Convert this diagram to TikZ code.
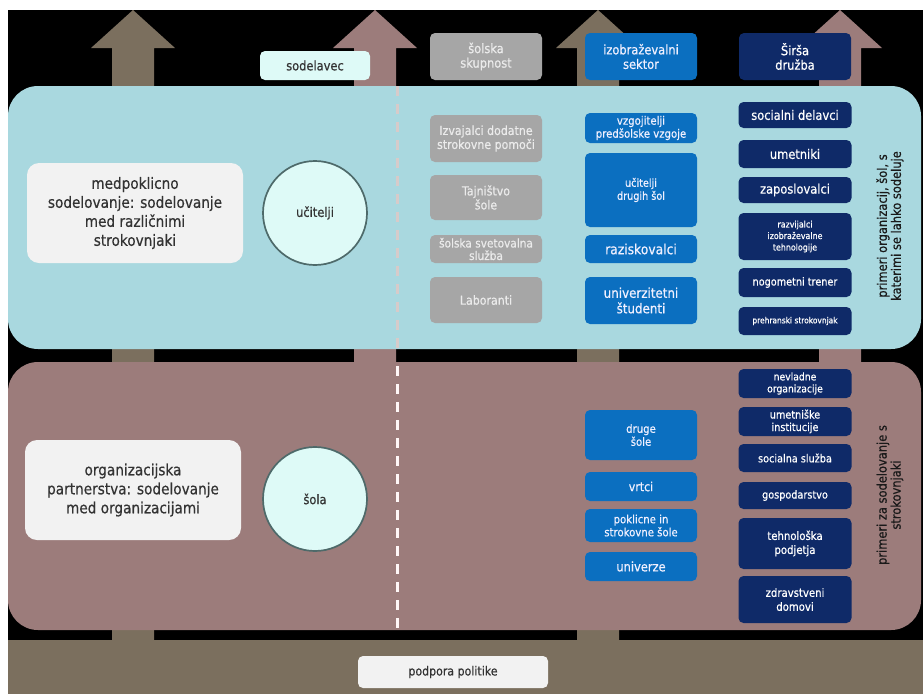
\documentclass[tikz,border=0pt]{standalone}
\usepackage{fontspec}
\setmainfont[FakeStretch=0.88, FakeBold=0.5]{DejaVu Sans}

\definecolor{bandblue}{HTML}{A9D8DF}
\definecolor{bandpink}{HTML}{9C7C7B}
\definecolor{arrowolive}{HTML}{7B6F5E}
\definecolor{boxgrey}{HTML}{A6A6A6}
\definecolor{boxblue}{HTML}{0B6FC0}
\definecolor{boxnavy}{HTML}{0F2A68}
\definecolor{paleteal}{HTML}{DEFAF7}
\definecolor{textbg}{HTML}{F2F2F2}
\definecolor{ringgrey}{HTML}{4E6A6A}

\newcommand{\fsz}[2]{\fontsize{#1}{#2}\selectfont}

\begin{document}
\begin{tikzpicture}[x=1pt, y=-1pt,
    greybox/.style={fill=boxgrey, text=white!92!black, rounded corners=5pt, minimum width=112pt, align=center, inner sep=1pt, font=\fsz{12.5}{14}},
    bluebox/.style={fill=boxblue, text=white!94!blue, rounded corners=5pt, minimum width=112pt, align=center, inner sep=1pt, font=\fsz{11.5}{13}},
    navybox/.style={fill=boxnavy, text=white, rounded corners=5pt, minimum width=113pt, align=center, inner sep=1pt, font=\fsz{11}{12.5}},
    headbox/.style={rounded corners=5pt, minimum width=112pt, minimum height=47pt, align=center, inner sep=1pt, font=\fsz{13}{14.5}},
    infobox/.style={fill=textbg, text=black!80, rounded corners=12pt, minimum width=216pt, minimum height=100pt, align=center, font=\fsz{15.5}{19}},
    actor/.style={circle, draw=ringgrey, line width=1.7pt, fill=paleteal, minimum size=104pt, text=black!80, font=\fsz{13}{15}},
    sidenote/.style={rotate=90, align=center, text=black!90, font=\fsz{13}{14}}
  ]

  \useasboundingbox (0,0) rectangle (923,694);
  \fill[white] (0,0) rectangle (923,694);
  \fill[black] (8,10) rectangle (923,640);

  % Puščice
  \fill[arrowolive] (112,640) -- (112,48) -- (91,48) -- (133,10) -- (175,48) -- (154,48) -- (154,640) -- cycle;
  \fill[bandpink] (354,370) -- (354,48) -- (333,48) -- (375,10) -- (417,48) -- (396,48) -- (396,370) -- cycle;
  \fill[arrowolive] (577,640) -- (577,48) -- (556,48) -- (598,10) -- (640,48) -- (619,48) -- (619,640) -- cycle;
  \fill[bandpink] (819,370) -- (819,48) -- (798,48) -- (840,10) -- (882,48) -- (861,48) -- (861,370) -- cycle;

  % Pasovi
  \fill[bandblue, rounded corners=30pt] (8,86) rectangle (921,349);
  \fill[bandpink, rounded corners=30pt] (8,362) rectangle (921,630);
  \fill[arrowolive] (8,640) rectangle (923,694);
  \draw[color=bandpink!40!white, line width=3pt, dash pattern=on 10pt off 8pt] (397,86) -- (397,349);
  \draw[color=white!88!pink, line width=3pt, dash pattern=on 10pt off 8pt] (397,366) -- (397,630);

  % Glave stolpcev
  \node[headbox, fill=paleteal, text=black!80, minimum height=29pt, minimum width=110pt] (sodelavec) at (315,65.5) {sodelavec};
  \node[headbox, fill=boxgrey, text=white!92!black] (skupnost) at (486,56.5) {šolska\\skupnost};
  \node[headbox, fill=boxblue, text=white!94!blue] (sektor) at (641,56.5) {izobraževalni\\sektor};
  \node[headbox, fill=boxnavy, text=white] (druzba) at (795,56.5) {Širša\\družba};

  % Levo
  \node[infobox] (medpoklicno) at (135,213) {medpoklicno\\sodelovanje: sodelovanje\\med različnimi\\strokovnjaki};
  \node[actor] (ucitelji) at (315,213) {učitelji};
  \node[infobox] (partnerstva) at (133,490) {organizacijska\\partnerstva: sodelovanje\\med organizacijami};
  \node[actor] (sola) at (315,499) {šola};

  % Šolska skupnost
  \node[greybox, minimum height=47pt] (izvajalci) at (486,138.5) {Izvajalci dodatne\\strokovne pomoči};
  \node[greybox, minimum height=45pt] (tajnistvo) at (486,197.5) {Tajništvo\\šole};
  \node[greybox, minimum height=28pt, font=\fsz{12}{12.5}] (svetovalna) at (486,249) {šolska svetovalna\\služba};
  \node[greybox, minimum height=46pt] (laboranti) at (486,300) {Laboranti};

  % Izobraževalni sektor
  \node[bluebox, minimum height=30pt] (vzgojitelji) at (641,128) {vzgojitelji\\predšolske vzgoje};
  \node[bluebox, minimum height=74pt, font=\fsz{11}{13}] (drugiucitelji) at (641,190) {učitelji\\drugih šol};
  \node[bluebox, minimum height=28pt, font=\fsz{14}{15}] (raziskovalci) at (641,249) {raziskovalci};
  \node[bluebox, minimum height=47pt, font=\fsz{13.5}{15.5}] (studenti) at (641,300.5) {univerzitetni\\študenti};
  \node[bluebox, minimum height=50pt] (drugesole) at (641,435) {druge\\šole};
  \node[bluebox, minimum height=29pt, font=\fsz{12.5}{14}] (vrtci) at (641,486.5) {vrtci};
  \node[bluebox, minimum height=33pt] (poklicne) at (641,525.5) {poklicne in\\strokovne šole};
  \node[bluebox, minimum height=29pt, font=\fsz{13}{14}] (univerze) at (641,566.5) {univerze};

  % Širša družba
  \node[navybox, minimum height=26pt, font=\fsz{13}{14}] (socialni) at (795,115) {socialni delavci};
  \node[navybox, minimum height=28pt, font=\fsz{13}{14}] (umetniki) at (795,154) {umetniki};
  \node[navybox, minimum height=26pt, font=\fsz{13}{14}] (zaposlovalci) at (795,190) {zaposlovalci};
  \node[navybox, minimum height=47pt, font=\fsz{9}{11.5}] (razvijalci) at (795,236.5) {razvijalci\\izobraževalne\\tehnologije};
  \node[navybox, minimum height=29pt, font=\fsz{11}{12}] (trener) at (795,282.5) {nogometni trener};
  \node[navybox, minimum height=28pt, font=\fsz{8.5}{10}] (prehranski) at (795,321) {prehranski strokovnjak};
  \node[navybox, minimum height=29pt, font=\fsz{10.5}{12}] (nevladne) at (795,383.5) {nevladne\\organizacije};
  \node[navybox, minimum height=29pt] (institucije) at (795,421.5) {umetniške\\institucije};
  \node[navybox, minimum height=28pt] (sluzba) at (795,458) {socialna služba};
  \node[navybox, minimum height=27pt] (gospodarstvo) at (795,495.5) {gospodarstvo};
  \node[navybox, minimum height=51pt, font=\fsz{11.5}{14}] (podjetja) at (795,543.5) {tehnološka\\podjetja};
  \node[navybox, minimum height=47pt, font=\fsz{11.5}{14}] (domovi) at (795,599.5) {zdravstveni\\domovi};

  % Stranski napisi
  \node[sidenote] (primeri1) at (890,226) {primeri organizacij, šol, s\\katerimi se lahko sodeluje};
  \node[sidenote] (primeri2) at (890,495) {primeri za sodelovanje s\\strokovnjaki};

  % Spodaj
  \node[fill=textbg, text=black!80, rounded corners=5pt, minimum width=190pt, minimum height=32pt, font=\fsz{12.5}{14}] (podpora) at (453,672) {podpora politike};

\end{tikzpicture}
\end{document}
